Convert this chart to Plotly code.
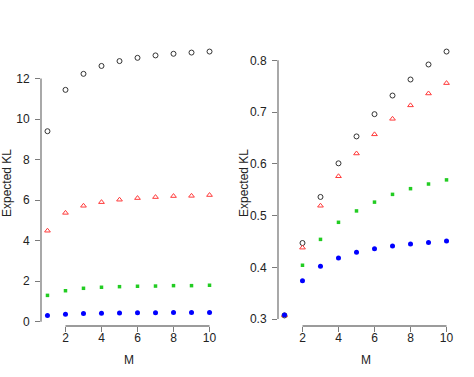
import plotly.graph_objects as go

M = [1, 2, 3, 4, 5, 6, 7, 8, 9, 10]

# Left panel
left_black = [9.40, 11.44, 12.23, 12.62, 12.86, 13.02, 13.14, 13.22, 13.28, 13.33]
left_red = [4.49, 5.37, 5.72, 5.90, 6.02, 6.10, 6.15, 6.20, 6.21, 6.25]
left_green = [1.30, 1.53, 1.65, 1.70, 1.73, 1.75, 1.76, 1.78, 1.78, 1.80]
left_blue = [0.31, 0.37, 0.40, 0.42, 0.43, 0.44, 0.44, 0.45, 0.45, 0.45]

# Right panel
right_black = [0.307, 0.447, 0.536, 0.601, 0.653, 0.696, 0.732, 0.763, 0.792, 0.817]
right_red = [0.307, 0.438, 0.519, 0.576, 0.620, 0.657, 0.687, 0.713, 0.736, 0.756]
right_green = [0.307, 0.404, 0.454, 0.487, 0.509, 0.526, 0.541, 0.552, 0.561, 0.569]
right_blue = [0.308, 0.374, 0.402, 0.418, 0.429, 0.436, 0.441, 0.445, 0.448, 0.451]

x_ticks = [2, 4, 6, 8, 10]
left_yticks = [0, 2, 4, 6, 8, 10, 12]
right_yticks = [0.3, 0.4, 0.5, 0.6, 0.7, 0.8]
right_ytext = ["0.3", "0.4", "0.5", "0.6", "0.7", "0.8"]

FONT = "Liberation Sans, Arial, sans-serif"
AXC = "#7a7a7a"
TXT = "#222222"

fig = go.Figure()

def add_series(xa, ya, black, red, green, blue):
    fig.add_trace(go.Scatter(x=M, y=black, mode="markers", xaxis=xa, yaxis=ya,
                             marker=dict(symbol="circle-open", size=5, color="#333333",
                                         line=dict(width=1, color="#333333"))))
    fig.add_trace(go.Scatter(x=M, y=red, mode="markers", xaxis=xa, yaxis=ya,
                             marker=dict(symbol="triangle-up-open", size=5, color="#ff3a3a",
                                         line=dict(width=1, color="#ff3a3a"))))
    fig.add_trace(go.Scatter(x=M, y=green, mode="markers", xaxis=xa, yaxis=ya,
                             marker=dict(symbol="square", size=3.5, color="#22cc22",
                                         line=dict(width=0))))
    fig.add_trace(go.Scatter(x=M, y=blue, mode="markers", xaxis=xa, yaxis=ya,
                             marker=dict(symbol="circle", size=5, color="#0000ff",
                                         line=dict(width=0))))

add_series("x", "y", left_black, left_red, left_green, left_blue)
add_series("x2", "y2", right_black, right_red, right_green, right_blue)

def ext(vals_list):
    lo = min(min(v) for v in vals_list)
    hi = max(max(v) for v in vals_list)
    d = (hi - lo) * 0.04
    return [lo - d, hi + d]

xr = [1 - 0.36, 10 + 0.36]
ydom = [51 / 377, 336 / 377]

common_x = dict(range=xr, showline=False, showgrid=False, zeroline=False,
                automargin=False,
                ticks="outside", ticklen=5, tickcolor=AXC, tickwidth=1,
                ticklabelstandoff=-4,
                tickvals=x_ticks, tickfont=dict(size=12, color=TXT, family=FONT))
common_y = dict(showline=False, showgrid=False, zeroline=False,
                automargin=False,
                ticks="outside", ticklen=5, tickcolor=AXC, tickwidth=1,
                ticklabelstandoff=3,
                tickfont=dict(size=12, color=TXT, family=FONT),
                domain=ydom)

fig.update_layout(
    width=474, height=377,
    margin=dict(l=0, r=0, t=0, b=0),
    paper_bgcolor="white", plot_bgcolor="white",
    showlegend=False,
    xaxis=dict(common_x, domain=[41 / 474, 216 / 474], anchor="y"),
    xaxis2=dict(common_x, domain=[278 / 474, 453 / 474], anchor="y2"),
    yaxis=dict(common_y, range=ext([left_black, left_red, left_green, left_blue]),
               tickvals=left_yticks, anchor="x"),
    yaxis2=dict(common_y, range=ext([right_black, right_red, right_green, right_blue]),
                tickvals=right_yticks, ticktext=right_ytext, anchor="x2"),
)

# Axis titles
anns = []
for cx, ylx in [((41 + 216) / 2 / 474, 7 / 474), ((278 + 453) / 2 / 474, 244 / 474)]:
    anns.append(dict(text="M", x=cx, y=(377 - 360) / 377, xref="paper", yref="paper",
                     showarrow=False, font=dict(size=12, color=TXT, family=FONT),
                     xanchor="center", yanchor="middle"))
    anns.append(dict(text="Expected KL", x=ylx, y=(377 - 183) / 377, xref="paper", yref="paper",
                     showarrow=False, textangle=-90, font=dict(size=12, color=TXT, family=FONT),
                     xanchor="center", yanchor="middle"))
fig.update_layout(annotations=anns)

# R-style axis lines spanning only first to last tick
shapes = []
for xa, ya, yt in [("x", "y", left_yticks), ("x2", "y2", right_yticks)]:
    shapes.append(dict(type="line", xref=xa, yref=ya + " domain",
                       x0=x_ticks[0], x1=x_ticks[-1], y0=0, y1=0,
                       line=dict(color=AXC, width=1.3)))
    shapes.append(dict(type="line", xref=xa + " domain", yref=ya,
                       x0=0, x1=0, y0=yt[0], y1=yt[-1],
                       line=dict(color=AXC, width=1.3)))
fig.update_layout(shapes=shapes)

fig.write_html("out.html",
               config={"displayModeBar": False},
               post_script="document.body.style.margin='0';document.body.style.overflow='hidden';")
